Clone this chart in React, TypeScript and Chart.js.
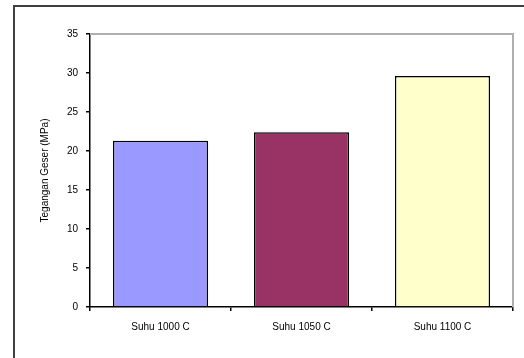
import React, { useEffect, useRef } from "react";
import { Chart, registerables } from "chart.js";

Chart.register(...registerables);

const categories = ["Suhu 1000 C", "Suhu 1050 C", "Suhu 1100 C"];
const values = [21.3, 22.4, 29.6];
const barColors = ["#9999FF", "#993366", "#FFFFCC"];
const yTicks = [0, 5, 10, 15, 20, 25, 30, 35];
const yTitle = "Tegangan Geser (MPa)";

const plotFrame = {
  id: "plotFrame",
  afterDraw(chart: any) {
    const { ctx, chartArea } = chart;
    ctx.save();
    ctx.strokeStyle = "#b0b0b0";
    ctx.lineWidth = 2;
    ctx.beginPath();
    ctx.moveTo(chartArea.left, chartArea.top);
    ctx.lineTo(chartArea.right, chartArea.top);
    ctx.lineTo(chartArea.right, chartArea.bottom);
    ctx.stroke();
    ctx.restore();
  },
};

export default function App() {
  const ref = useRef<HTMLCanvasElement>(null);
  useEffect(() => {
    document.body.style.margin = "0";
    const chart = new Chart(ref.current!, {
      type: "bar",
      data: {
        labels: categories,
        datasets: [
          {
            data: values,
            backgroundColor: barColors,
            borderColor: "#000000",
            borderWidth: 1.5,
            barPercentage: 0.675,
            categoryPercentage: 1,
          },
        ],
      },
      options: {
        animation: false,
        responsive: false,
        maintainAspectRatio: false,
        layout: { padding: { left: 39, top: 34, right: 11, bottom: 21 } },
        plugins: { legend: { display: false }, tooltip: { enabled: false } },
        scales: {
          x: {
            offset: true,
            afterFit: (s: any) => {
              s.height = 30;
            },
            grid: {
              offset: true,
              drawOnChartArea: false,
              tickLength: 4,
              color: "#000",
              lineWidth: 1.5,
            },
            border: { color: "#000", width: 1.5 },
            ticks: {
              color: "#000",
              font: { family: "Liberation Sans", size: 10 },
              padding: 10,
            },
          },
          y: {
            min: 0,
            max: 35,
            afterBuildTicks: (s: any) => {
              s.ticks = yTicks.map((v) => ({ value: v }));
            },
            afterFit: (s: any) => {
              s.width = 51;
            },
            grid: {
              drawOnChartArea: false,
              tickLength: 4,
              color: "#000",
              lineWidth: 1.5,
            },
            border: { color: "#000", width: 1.5 },
            ticks: {
              color: "#000",
              font: { family: "Liberation Sans", size: 10 },
              padding: 8,
            },
            title: {
              display: true,
              text: yTitle,
              color: "#000",
              font: { family: "Liberation Sans", size: 10 },
              padding: { top: 0, bottom: 0 },
            },
          },
        },
      },
      plugins: [plotFrame],
    });
    return () => chart.destroy();
  }, []);
  return (
    <div style={{ position: "relative", width: 524, height: 358, overflow: "hidden", background: "#fff" }}>
      <div
        style={{
          position: "absolute",
          left: 13,
          top: 5,
          width: 600,
          height: 600,
          borderLeft: "2px solid #404040",
          borderTop: "2px solid #404040",
        }}
      />
      <canvas ref={ref} width={524} height={358} style={{ position: "absolute", left: 0, top: 0 }} />
    </div>
  );
}
